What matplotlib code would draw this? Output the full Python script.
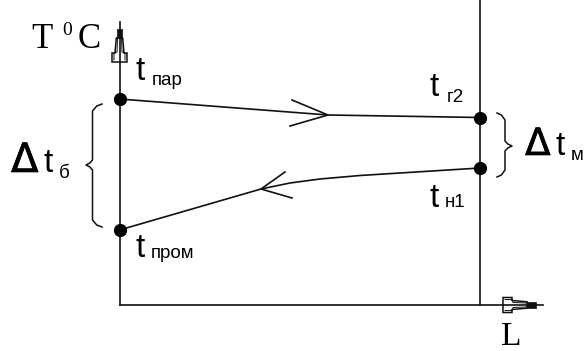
import matplotlib
matplotlib.use("Agg")
import matplotlib.pyplot as plt
import matplotlib.patheffects as pe
from matplotlib.patches import Polygon

# Schematic in picture pixels (x right, y down), 584 x 351
axis_x = 119.5          # temperature axis
axis_y = 305            # length axis
wall_x = 480            # right wall line

# upper stream: t_пар -> t_г2
upper_x = [119.5, 328, 480]
upper_y = [99, 115, 117.5]
# lower stream: t_н1 -> t_пром
lower_x = [480, 440, 400, 360, 320, 290, 261, 119.5]
lower_y = [168, 170.5, 173, 175.5, 179, 183, 189, 230]

# state points
point_x = [119.5, 480, 480, 119.5]
point_y = [99, 117.5, 168, 230]

# arrow heads on the streams (wing, tip, wing)
upper_head = [(292, 100), (328, 115), (290, 126)]
lower_head = [(285, 172), (261, 189), (292, 198)]

# braces: (x of the ends, x of the spine, x of the tip, y top, y mid, y bottom)
brace_left = (102, 92.5, 86, 104, 165, 227)
brace_right = (497, 505, 512, 113, 146, 177)

INK = "#111111"
SANS = ["Liberation Sans", "DejaVu Sans"]
SERIF = ["Liberation Serif", "DejaVu Serif"]

fig = plt.figure(figsize=(5.84, 3.51), dpi=100)
ax = fig.add_axes([0, 0, 1, 1])
ax.set_xlim(0, 584)
ax.set_ylim(351, 0)
ax.axis("off")


def hollow_arrow(ax, base, along_x):
    # stepped hollow arrow used on the axes:
    # wide part, narrow part, black part, then the bare line to the tip
    if along_x:
        p = lambda a, b: (a, axis_y + b)
        d = 1
    else:
        p = lambda a, b: (axis_x + b, a)
        d = -1
    s0 = base
    s1 = base + d * 9
    s2 = base + d * 24
    s3 = base + d * 33
    outline = [p(s0, -7.5), p(s1, -7.5), p(s1, -4.5), p(s2, -3.2),
               p(s2, 3.2), p(s1, 4.5), p(s1, 7.5), p(s0, 7.5)]
    ax.add_patch(Polygon(outline, closed=True, fill=False, ec=INK, lw=1.1))
    for sg in (-1, 1):
        inner = [p(s0 + d * 2, sg * 5.5), p(s1, sg * 5.5),
                 p(s1 + d * 1, sg * 2.5), p(s2, sg * 2.0)]
        ax.plot(*zip(*inner), color=INK, lw=0.7)
    black = [p(s2, -2.8), p(s3, -2.8), p(s3, 2.8), p(s2, 2.8)]
    ax.add_patch(Polygon(black, closed=True, fc=INK, ec=INK, lw=0.5))


def brace(ax, b):
    xe, xs, xt, yt, ym, yb = b
    xs_ = [xe, xs + (xe - xs) * 0.45, xs, xs, xs + (xt - xs) * 0.4, xt,
           xs + (xt - xs) * 0.4, xs, xs, xs + (xe - xs) * 0.45, xe]
    ys_ = [yt, yt + 2, yt + 7, ym - 5, ym - 2, ym,
           ym + 2, ym + 5, yb - 7, yb - 2, yb]
    ax.plot(xs_, ys_, color=INK, lw=1.1, solid_joinstyle="round")


# axes
ax.plot([axis_x, axis_x], [axis_y, 22], color=INK, lw=1.2)
ax.plot([axis_x, 543], [axis_y, axis_y], color=INK, lw=1.2)
ax.plot([wall_x, wall_x], [0, axis_y], color=INK, lw=1.2)
hollow_arrow(ax, 62, along_x=False)
hollow_arrow(ax, 503, along_x=True)

# streams
ax.plot(upper_x, upper_y, color=INK, lw=1.2)
ax.plot(lower_x, lower_y, color=INK, lw=1.2)
ax.plot(*zip(*upper_head), color=INK, lw=1.2)
ax.plot(*zip(*lower_head), color=INK, lw=1.2)
ax.plot(point_x, point_y, "o", color="black", ms=8.5, mec="black")

brace(ax, brace_left)
brace(ax, brace_right)

# axis captions
ax.text(31, 48, "T", family=SERIF, fontsize=25, va="baseline", ha="left")
ax.text(62, 35, "0", family=SERIF, fontsize=14, va="baseline", ha="left")
ax.text(78, 48, "C", family=SERIF, fontsize=25, va="baseline", ha="left")
ax.text(501, 345, "L", family=SERIF, fontsize=24, va="baseline", ha="left")


def tlabel(x, y, sub, dx, dy):
    ax.text(x, y, "t", family=SANS, fontsize=24, va="baseline", ha="left")
    ax.text(x + dx, y + dy, sub, family=SANS, fontsize=13.5, va="baseline", ha="left")


tlabel(135, 80, "пар", 17, 5)
tlabel(430, 96, "г2", 17, 6)
tlabel(430, 207, "н1", 15, 0)
tlabel(135, 257, "пром", 16, 1)

# temperature differences (the delta drawn with a slightly heavier stroke)
thick = [pe.withStroke(linewidth=0.5, foreground=INK)]
ax.text(11, 172, "Δ", family=["DejaVu Sans"], fontsize=29,
        va="baseline", ha="left", path_effects=thick)
ax.text(44, 172, "t", family=SANS, fontsize=24, va="baseline", ha="left")
ax.text(59, 178, "б", family=SANS, fontsize=13.5, va="baseline", ha="left")
ax.text(525, 155, "Δ", family=["DejaVu Sans"], fontsize=27,
        va="baseline", ha="left", path_effects=thick)
ax.text(556, 155, "t", family=SANS, fontsize=24, va="baseline", ha="left")
ax.text(571, 160, "м", family=SANS, fontsize=13.5, va="baseline", ha="left")

fig.savefig("out.png", dpi=100, facecolor="white")
